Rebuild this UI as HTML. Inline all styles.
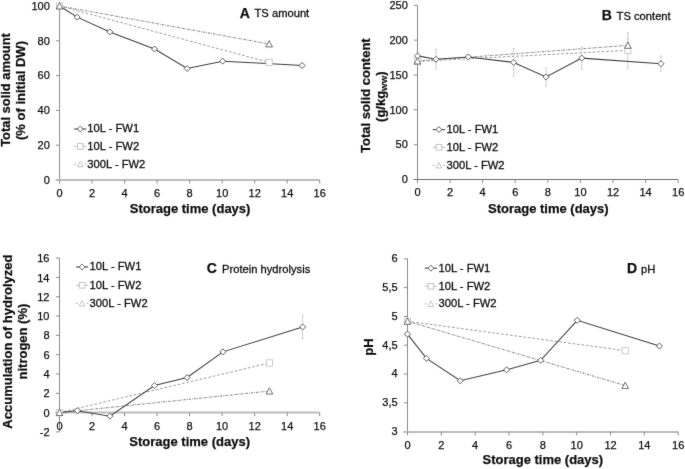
<!DOCTYPE html>
<html><head><meta charset="utf-8"><style>
html,body{margin:0;padding:0;background:#fff;width:685px;height:469px;overflow:hidden}
svg{display:block}
#w{width:685px;height:469px;will-change:transform}
.t{font-family:"Liberation Sans",sans-serif;font-size:11.2px;fill:#111;stroke:#111;stroke-width:0.3px}
.k{font-family:"Liberation Sans",sans-serif;font-size:11px;fill:#111;stroke:#111;stroke-width:0.25px}
.b{font-family:"Liberation Sans",sans-serif;font-size:13px;font-weight:bold;fill:#111;stroke:#111;stroke-width:0.25px}
</style></head><body><div id="w">
<svg width="685" height="469" viewBox="0 0 685 469"><defs><filter id="bl" filterUnits="userSpaceOnUse" x="0" y="0" width="685" height="469"><feConvolveMatrix order="3" kernelMatrix="0.00524 0.06192 0.00524 0.06192 0.73137 0.06192 0.00524 0.06192 0.00524" edgeMode="none"/></filter></defs><rect width="685" height="469" fill="#fff"/><g filter="url(#bl)">
<line x1="59.6" y1="6" x2="59.6" y2="180" stroke="#8c8c8c" stroke-width="1"/>
<line x1="56" y1="180" x2="59.6" y2="180" stroke="#8c8c8c" stroke-width="1"/>
<text x="49.8" y="183.8" text-anchor="end" class="k">0</text>
<line x1="56" y1="145.2" x2="59.6" y2="145.2" stroke="#8c8c8c" stroke-width="1"/>
<text x="49.8" y="149" text-anchor="end" class="k">20</text>
<line x1="56" y1="110.4" x2="59.6" y2="110.4" stroke="#8c8c8c" stroke-width="1"/>
<text x="49.8" y="114.2" text-anchor="end" class="k">40</text>
<line x1="56" y1="75.6" x2="59.6" y2="75.6" stroke="#8c8c8c" stroke-width="1"/>
<text x="49.8" y="79.4" text-anchor="end" class="k">60</text>
<line x1="56" y1="40.8" x2="59.6" y2="40.8" stroke="#8c8c8c" stroke-width="1"/>
<text x="49.8" y="44.6" text-anchor="end" class="k">80</text>
<line x1="56" y1="6" x2="59.6" y2="6" stroke="#8c8c8c" stroke-width="1"/>
<text x="49.8" y="9.8" text-anchor="end" class="k">100</text>
<line x1="55.6" y1="180" x2="319.7" y2="180" stroke="#bcbcbc" stroke-width="2"/>
<line x1="59.6" y1="180" x2="59.6" y2="183.5" stroke="#8c8c8c" stroke-width="1"/>
<text x="59.6" y="196.8" text-anchor="middle" class="k">0</text>
<line x1="92.11" y1="180" x2="92.11" y2="183.5" stroke="#8c8c8c" stroke-width="1"/>
<text x="92.11" y="196.8" text-anchor="middle" class="k">2</text>
<line x1="124.62" y1="180" x2="124.62" y2="183.5" stroke="#8c8c8c" stroke-width="1"/>
<text x="124.62" y="196.8" text-anchor="middle" class="k">4</text>
<line x1="157.14" y1="180" x2="157.14" y2="183.5" stroke="#8c8c8c" stroke-width="1"/>
<text x="157.14" y="196.8" text-anchor="middle" class="k">6</text>
<line x1="189.65" y1="180" x2="189.65" y2="183.5" stroke="#8c8c8c" stroke-width="1"/>
<text x="189.65" y="196.8" text-anchor="middle" class="k">8</text>
<line x1="222.16" y1="180" x2="222.16" y2="183.5" stroke="#8c8c8c" stroke-width="1"/>
<text x="222.16" y="196.8" text-anchor="middle" class="k">10</text>
<line x1="254.67" y1="180" x2="254.67" y2="183.5" stroke="#8c8c8c" stroke-width="1"/>
<text x="254.67" y="196.8" text-anchor="middle" class="k">12</text>
<line x1="287.19" y1="180" x2="287.19" y2="183.5" stroke="#8c8c8c" stroke-width="1"/>
<text x="287.19" y="196.8" text-anchor="middle" class="k">14</text>
<line x1="319.7" y1="180" x2="319.7" y2="183.5" stroke="#8c8c8c" stroke-width="1"/>
<text x="319.7" y="196.8" text-anchor="middle" class="k">16</text>
<text x="190.1" y="213.1" text-anchor="middle" class="b">Storage time (days)</text>
<text transform="translate(10.35,90) rotate(-90)" text-anchor="middle" class="b" style="font-size:12.9px">Total solid amount</text>
<text transform="translate(25.2,90.5) rotate(-90)" text-anchor="middle" class="b">(% of initial DW)</text>
<text x="239.8" y="17.6" class="b" style="font-size:14px">A</text><text x="254.5" y="17.3" class="t">TS amount</text>
<line x1="74.2" y1="129" x2="86.3" y2="129" stroke="#444" stroke-width="1.1"/>
<path d="M80.25 126.1L83.15 129L80.25 131.9L77.35 129Z" fill="#fff" stroke="#444" stroke-width="0.9"/>
<line x1="74.2" y1="146.4" x2="86.3" y2="146.4" stroke="#bdbdbd" stroke-width="1"/>
<rect x="77.45" y="143.6" width="5.6" height="5.6" fill="#fff" stroke="#bdbdbd" stroke-width="0.9"/>
<line x1="74.2" y1="164.2" x2="75.8" y2="164.2" stroke="#a8a8a8" stroke-width="1"/>
<line x1="84.7" y1="164.2" x2="86.3" y2="164.2" stroke="#a8a8a8" stroke-width="1"/>
<path d="M80.25 161.3L83.15 166.81L77.35 166.81Z" fill="#fff" stroke="#bdbdbd" stroke-width="0.9"/>
<text x="87.3" y="132.3" class="t">10L - FW1</text>
<text x="87.3" y="149.7" class="t">10L - FW2</text>
<text x="87.3" y="167.5" class="t">300L - FW2</text>
<polyline points="59.6,6 269.14,43.93" fill="none" stroke="#6a6a6a" stroke-width="0.9" stroke-dasharray="2.2,1.1,0.8,1.1"/>
<polyline points="59.6,6 269.14,62.38" fill="none" stroke="#9a9a9a" stroke-width="1" stroke-dasharray="2.6,1.9"/>
<polyline points="59.6,6 77.16,17.14 109.83,31.93 154.54,48.98 187.21,68.47 222.65,61.16 302.14,65.51" fill="none" stroke="#404040" stroke-width="1.05"/>
<path d="M59.6 3L62.6 6L59.6 9L56.6 6Z" fill="#fff" stroke="#404040" stroke-width="0.9"/>
<path d="M77.16 14.14L80.16 17.14L77.16 20.14L74.16 17.14Z" fill="#fff" stroke="#404040" stroke-width="0.9"/>
<path d="M109.83 28.93L112.83 31.93L109.83 34.93L106.83 31.93Z" fill="#fff" stroke="#404040" stroke-width="0.9"/>
<path d="M154.54 45.98L157.54 48.98L154.54 51.98L151.54 48.98Z" fill="#fff" stroke="#404040" stroke-width="0.9"/>
<path d="M187.21 65.47L190.21 68.47L187.21 71.47L184.21 68.47Z" fill="#fff" stroke="#404040" stroke-width="0.9"/>
<path d="M222.65 58.16L225.65 61.16L222.65 64.16L219.65 61.16Z" fill="#fff" stroke="#404040" stroke-width="0.9"/>
<path d="M302.14 62.51L305.14 65.51L302.14 68.51L299.14 65.51Z" fill="#fff" stroke="#404040" stroke-width="0.9"/>
<rect x="56.5" y="2.9" width="6.2" height="6.2" fill="#fff" stroke="#c6c6c6" stroke-width="0.9"/>
<rect x="266.04" y="59.28" width="6.2" height="6.2" fill="#fff" stroke="#c6c6c6" stroke-width="0.9"/>
<path d="M59.6 2.7L62.9 8.97L56.3 8.97Z" fill="#fff" stroke="#5a5a5a" stroke-width="0.9"/>
<path d="M269.14 40.63L272.44 46.9L265.84 46.9Z" fill="#fff" stroke="#5a5a5a" stroke-width="0.9"/>
<line x1="417.5" y1="5.3" x2="417.5" y2="179.5" stroke="#8c8c8c" stroke-width="1"/>
<line x1="413.9" y1="179.5" x2="417.5" y2="179.5" stroke="#8c8c8c" stroke-width="1"/>
<text x="407.8" y="183.3" text-anchor="end" class="k">0</text>
<line x1="413.9" y1="144.66" x2="417.5" y2="144.66" stroke="#8c8c8c" stroke-width="1"/>
<text x="407.8" y="148.46" text-anchor="end" class="k">50</text>
<line x1="413.9" y1="109.82" x2="417.5" y2="109.82" stroke="#8c8c8c" stroke-width="1"/>
<text x="407.8" y="113.62" text-anchor="end" class="k">100</text>
<line x1="413.9" y1="74.98" x2="417.5" y2="74.98" stroke="#8c8c8c" stroke-width="1"/>
<text x="407.8" y="78.78" text-anchor="end" class="k">150</text>
<line x1="413.9" y1="40.14" x2="417.5" y2="40.14" stroke="#8c8c8c" stroke-width="1"/>
<text x="407.8" y="43.94" text-anchor="end" class="k">200</text>
<line x1="413.9" y1="5.3" x2="417.5" y2="5.3" stroke="#8c8c8c" stroke-width="1"/>
<text x="407.8" y="9.1" text-anchor="end" class="k">250</text>
<line x1="413.5" y1="179.5" x2="678.2" y2="179.5" stroke="#6e6e6e" stroke-width="1"/>
<line x1="417.5" y1="179.5" x2="417.5" y2="183" stroke="#8c8c8c" stroke-width="1"/>
<text x="417.5" y="196.2" text-anchor="middle" class="k">0</text>
<line x1="450.09" y1="179.5" x2="450.09" y2="183" stroke="#8c8c8c" stroke-width="1"/>
<text x="450.09" y="196.2" text-anchor="middle" class="k">2</text>
<line x1="482.68" y1="179.5" x2="482.68" y2="183" stroke="#8c8c8c" stroke-width="1"/>
<text x="482.68" y="196.2" text-anchor="middle" class="k">4</text>
<line x1="515.26" y1="179.5" x2="515.26" y2="183" stroke="#8c8c8c" stroke-width="1"/>
<text x="515.26" y="196.2" text-anchor="middle" class="k">6</text>
<line x1="547.85" y1="179.5" x2="547.85" y2="183" stroke="#8c8c8c" stroke-width="1"/>
<text x="547.85" y="196.2" text-anchor="middle" class="k">8</text>
<line x1="580.44" y1="179.5" x2="580.44" y2="183" stroke="#8c8c8c" stroke-width="1"/>
<text x="580.44" y="196.2" text-anchor="middle" class="k">10</text>
<line x1="613.03" y1="179.5" x2="613.03" y2="183" stroke="#8c8c8c" stroke-width="1"/>
<text x="613.03" y="196.2" text-anchor="middle" class="k">12</text>
<line x1="645.61" y1="179.5" x2="645.61" y2="183" stroke="#8c8c8c" stroke-width="1"/>
<text x="645.61" y="196.2" text-anchor="middle" class="k">14</text>
<line x1="678.2" y1="179.5" x2="678.2" y2="183" stroke="#8c8c8c" stroke-width="1"/>
<text x="678.2" y="196.2" text-anchor="middle" class="k">16</text>
<text x="548.3" y="212.7" text-anchor="middle" class="b">Storage time (days)</text>
<text transform="translate(369.6,95.6) rotate(-90)" text-anchor="middle" class="b">Total solid content</text>
<text transform="translate(384.6,96.7) rotate(-90)" text-anchor="middle" class="b">(g/kg<tspan style="font-size:8px" dy="2.3">WW</tspan><tspan dy="-2.3">)</tspan></text>
<text x="601.8" y="19.8" class="b" style="font-size:14px">B</text><text x="616.6" y="19.8" class="t">TS content</text>
<line x1="432.8" y1="129.6" x2="445.1" y2="129.6" stroke="#444" stroke-width="1.1"/>
<path d="M438.95 126.7L441.85 129.6L438.95 132.5L436.05 129.6Z" fill="#fff" stroke="#444" stroke-width="0.9"/>
<line x1="432.8" y1="147.3" x2="445.1" y2="147.3" stroke="#bdbdbd" stroke-width="1"/>
<rect x="436.15" y="144.5" width="5.6" height="5.6" fill="#fff" stroke="#bdbdbd" stroke-width="0.9"/>
<line x1="432.8" y1="165.4" x2="434.4" y2="165.4" stroke="#a8a8a8" stroke-width="1"/>
<line x1="443.5" y1="165.4" x2="445.1" y2="165.4" stroke="#a8a8a8" stroke-width="1"/>
<path d="M438.95 162.5L441.85 168.01L436.05 168.01Z" fill="#fff" stroke="#bdbdbd" stroke-width="0.9"/>
<text x="446.5" y="132.9" class="t">10L - FW1</text>
<text x="446.5" y="150.6" class="t">10L - FW2</text>
<text x="446.5" y="168.7" class="t">300L - FW2</text>
<line x1="627.85" y1="52.33" x2="627.85" y2="38.4" stroke="#cfcfcf" stroke-width="1"/>
<line x1="626.75" y1="52.33" x2="628.95" y2="52.33" stroke="#cfcfcf" stroke-width="1"/>
<line x1="626.75" y1="38.4" x2="628.95" y2="38.4" stroke="#cfcfcf" stroke-width="1"/>
<polyline points="417.5,61.04 627.85,45.37" fill="none" stroke="#6a6a6a" stroke-width="0.9" stroke-dasharray="2.2,1.1,0.8,1.1"/>
<line x1="627.85" y1="68.15" x2="627.85" y2="32.61" stroke="#cfcfcf" stroke-width="1"/>
<line x1="626.75" y1="68.15" x2="628.95" y2="68.15" stroke="#cfcfcf" stroke-width="1"/>
<line x1="626.75" y1="32.61" x2="628.95" y2="32.61" stroke="#cfcfcf" stroke-width="1"/>
<polyline points="417.5,61.39 627.85,50.38" fill="none" stroke="#9a9a9a" stroke-width="1" stroke-dasharray="2.6,1.9"/>
<line x1="435.91" y1="69.06" x2="435.91" y2="49.55" stroke="#cfcfcf" stroke-width="1"/>
<line x1="434.81" y1="69.06" x2="437.01" y2="69.06" stroke="#cfcfcf" stroke-width="1"/>
<line x1="434.81" y1="49.55" x2="437.01" y2="49.55" stroke="#cfcfcf" stroke-width="1"/>
<line x1="468.34" y1="59.09" x2="468.34" y2="54.91" stroke="#cfcfcf" stroke-width="1"/>
<line x1="467.24" y1="59.09" x2="469.44" y2="59.09" stroke="#cfcfcf" stroke-width="1"/>
<line x1="467.24" y1="54.91" x2="469.44" y2="54.91" stroke="#cfcfcf" stroke-width="1"/>
<line x1="513.63" y1="76.37" x2="513.63" y2="48.5" stroke="#cfcfcf" stroke-width="1"/>
<line x1="512.53" y1="76.37" x2="514.73" y2="76.37" stroke="#cfcfcf" stroke-width="1"/>
<line x1="512.53" y1="48.5" x2="514.73" y2="48.5" stroke="#cfcfcf" stroke-width="1"/>
<line x1="546.06" y1="85.99" x2="546.06" y2="67.87" stroke="#cfcfcf" stroke-width="1"/>
<line x1="544.96" y1="85.99" x2="547.16" y2="85.99" stroke="#cfcfcf" stroke-width="1"/>
<line x1="544.96" y1="67.87" x2="547.16" y2="67.87" stroke="#cfcfcf" stroke-width="1"/>
<line x1="581.74" y1="69.27" x2="581.74" y2="46.97" stroke="#cfcfcf" stroke-width="1"/>
<line x1="580.64" y1="69.27" x2="582.84" y2="69.27" stroke="#cfcfcf" stroke-width="1"/>
<line x1="580.64" y1="46.97" x2="582.84" y2="46.97" stroke="#cfcfcf" stroke-width="1"/>
<line x1="660.93" y1="71.36" x2="660.93" y2="56.03" stroke="#cfcfcf" stroke-width="1"/>
<line x1="659.83" y1="71.36" x2="662.03" y2="71.36" stroke="#cfcfcf" stroke-width="1"/>
<line x1="659.83" y1="56.03" x2="662.03" y2="56.03" stroke="#cfcfcf" stroke-width="1"/>
<polyline points="417.5,55.89 435.91,59.3 468.34,57 513.63,62.44 546.06,76.93 581.74,58.12 660.93,63.69" fill="none" stroke="#404040" stroke-width="1.05"/>
<path d="M417.5 52.89L420.5 55.89L417.5 58.89L414.5 55.89Z" fill="#fff" stroke="#404040" stroke-width="0.9"/>
<path d="M435.91 56.3L438.91 59.3L435.91 62.3L432.91 59.3Z" fill="#fff" stroke="#404040" stroke-width="0.9"/>
<path d="M468.34 54L471.34 57L468.34 60L465.34 57Z" fill="#fff" stroke="#404040" stroke-width="0.9"/>
<path d="M513.63 59.44L516.63 62.44L513.63 65.44L510.63 62.44Z" fill="#fff" stroke="#404040" stroke-width="0.9"/>
<path d="M546.06 73.93L549.06 76.93L546.06 79.93L543.06 76.93Z" fill="#fff" stroke="#404040" stroke-width="0.9"/>
<path d="M581.74 55.12L584.74 58.12L581.74 61.12L578.74 58.12Z" fill="#fff" stroke="#404040" stroke-width="0.9"/>
<path d="M660.93 60.69L663.93 63.69L660.93 66.69L657.93 63.69Z" fill="#fff" stroke="#404040" stroke-width="0.9"/>
<rect x="414.4" y="58.29" width="6.2" height="6.2" fill="#fff" stroke="#c6c6c6" stroke-width="0.9"/>
<rect x="624.75" y="47.28" width="6.2" height="6.2" fill="#fff" stroke="#c6c6c6" stroke-width="0.9"/>
<path d="M417.5 57.74L420.8 64.01L414.2 64.01Z" fill="#fff" stroke="#5a5a5a" stroke-width="0.9"/>
<path d="M627.85 42.07L631.15 48.34L624.55 48.34Z" fill="#fff" stroke="#5a5a5a" stroke-width="0.9"/>
<line x1="59.5" y1="258.1" x2="59.5" y2="431.91" stroke="#8c8c8c" stroke-width="1"/>
<line x1="55.9" y1="431.91" x2="59.5" y2="431.91" stroke="#8c8c8c" stroke-width="1"/>
<text x="49.5" y="436.01" text-anchor="end" class="k">-2</text>
<line x1="55.9" y1="412.6" x2="59.5" y2="412.6" stroke="#8c8c8c" stroke-width="1"/>
<text x="49.5" y="416.7" text-anchor="end" class="k">0</text>
<line x1="55.9" y1="393.29" x2="59.5" y2="393.29" stroke="#8c8c8c" stroke-width="1"/>
<text x="49.5" y="397.39" text-anchor="end" class="k">2</text>
<line x1="55.9" y1="373.98" x2="59.5" y2="373.98" stroke="#8c8c8c" stroke-width="1"/>
<text x="49.5" y="378.08" text-anchor="end" class="k">4</text>
<line x1="55.9" y1="354.66" x2="59.5" y2="354.66" stroke="#8c8c8c" stroke-width="1"/>
<text x="49.5" y="358.76" text-anchor="end" class="k">6</text>
<line x1="55.9" y1="335.35" x2="59.5" y2="335.35" stroke="#8c8c8c" stroke-width="1"/>
<text x="49.5" y="339.45" text-anchor="end" class="k">8</text>
<line x1="55.9" y1="316.04" x2="59.5" y2="316.04" stroke="#8c8c8c" stroke-width="1"/>
<text x="49.5" y="320.14" text-anchor="end" class="k">10</text>
<line x1="55.9" y1="296.73" x2="59.5" y2="296.73" stroke="#8c8c8c" stroke-width="1"/>
<text x="49.5" y="300.83" text-anchor="end" class="k">12</text>
<line x1="55.9" y1="277.41" x2="59.5" y2="277.41" stroke="#8c8c8c" stroke-width="1"/>
<text x="49.5" y="281.51" text-anchor="end" class="k">14</text>
<line x1="55.9" y1="258.1" x2="59.5" y2="258.1" stroke="#8c8c8c" stroke-width="1"/>
<text x="49.5" y="262.2" text-anchor="end" class="k">16</text>
<line x1="55.5" y1="412.6" x2="319.7" y2="412.6" stroke="#bcbcbc" stroke-width="2"/>
<line x1="59.5" y1="412.6" x2="59.5" y2="416.1" stroke="#8c8c8c" stroke-width="1"/>
<text x="59.5" y="430.1" text-anchor="middle" class="k">0</text>
<line x1="92.03" y1="412.6" x2="92.03" y2="416.1" stroke="#8c8c8c" stroke-width="1"/>
<text x="92.03" y="430.1" text-anchor="middle" class="k">2</text>
<line x1="124.55" y1="412.6" x2="124.55" y2="416.1" stroke="#8c8c8c" stroke-width="1"/>
<text x="124.55" y="430.1" text-anchor="middle" class="k">4</text>
<line x1="157.07" y1="412.6" x2="157.07" y2="416.1" stroke="#8c8c8c" stroke-width="1"/>
<text x="157.07" y="430.1" text-anchor="middle" class="k">6</text>
<line x1="189.6" y1="412.6" x2="189.6" y2="416.1" stroke="#8c8c8c" stroke-width="1"/>
<text x="189.6" y="430.1" text-anchor="middle" class="k">8</text>
<line x1="222.12" y1="412.6" x2="222.12" y2="416.1" stroke="#8c8c8c" stroke-width="1"/>
<text x="222.12" y="430.1" text-anchor="middle" class="k">10</text>
<line x1="254.65" y1="412.6" x2="254.65" y2="416.1" stroke="#8c8c8c" stroke-width="1"/>
<text x="254.65" y="430.1" text-anchor="middle" class="k">12</text>
<line x1="287.17" y1="412.6" x2="287.17" y2="416.1" stroke="#8c8c8c" stroke-width="1"/>
<text x="287.17" y="430.1" text-anchor="middle" class="k">14</text>
<line x1="319.7" y1="412.6" x2="319.7" y2="416.1" stroke="#8c8c8c" stroke-width="1"/>
<text x="319.7" y="430.1" text-anchor="middle" class="k">16</text>
<text x="189.7" y="445.7" text-anchor="middle" class="b">Storage time (days)</text>
<text transform="translate(11.5,341.6) rotate(-90)" text-anchor="middle" class="b">Accumulation of hydrolyzed</text>
<text transform="translate(26.5,341.6) rotate(-90)" text-anchor="middle" class="b">nitrogen (%)</text>
<text x="206.7" y="273.2" class="b" style="font-size:14px">C</text><text x="222" y="272.7" class="t">Protein hydrolysis</text>
<line x1="76" y1="267" x2="88.2" y2="267" stroke="#444" stroke-width="1.1"/>
<path d="M82.1 264.1L85 267L82.1 269.9L79.2 267Z" fill="#fff" stroke="#444" stroke-width="0.9"/>
<line x1="76" y1="285.3" x2="88.2" y2="285.3" stroke="#bdbdbd" stroke-width="1"/>
<rect x="79.3" y="282.5" width="5.6" height="5.6" fill="#fff" stroke="#bdbdbd" stroke-width="0.9"/>
<line x1="76" y1="303.4" x2="77.6" y2="303.4" stroke="#a8a8a8" stroke-width="1"/>
<line x1="86.6" y1="303.4" x2="88.2" y2="303.4" stroke="#a8a8a8" stroke-width="1"/>
<path d="M82.1 300.5L85 306.01L79.2 306.01Z" fill="#fff" stroke="#bdbdbd" stroke-width="0.9"/>
<text x="89.6" y="270.3" class="t">10L - FW1</text>
<text x="89.6" y="288.6" class="t">10L - FW2</text>
<text x="89.6" y="306.7" class="t">300L - FW2</text>
<polyline points="59.5,412.6 269.45,391.07" fill="none" stroke="#6a6a6a" stroke-width="0.9" stroke-dasharray="2.2,1.1,0.8,1.1"/>
<polyline points="59.5,412.6 269.45,362.97" fill="none" stroke="#9a9a9a" stroke-width="1" stroke-dasharray="2.6,1.9"/>
<line x1="302.62" y1="338.54" x2="302.62" y2="315.36" stroke="#cfcfcf" stroke-width="1"/>
<line x1="301.52" y1="338.54" x2="303.72" y2="338.54" stroke="#cfcfcf" stroke-width="1"/>
<line x1="301.52" y1="315.36" x2="303.72" y2="315.36" stroke="#cfcfcf" stroke-width="1"/>
<polyline points="59.5,412.6 77.39,410.67 109.91,416.17 154.47,385.56 187.16,377.55 222.94,351.86 302.62,326.95" fill="none" stroke="#404040" stroke-width="1.05"/>
<path d="M59.5 409.6L62.5 412.6L59.5 415.6L56.5 412.6Z" fill="#fff" stroke="#404040" stroke-width="0.9"/>
<path d="M77.39 407.67L80.39 410.67L77.39 413.67L74.39 410.67Z" fill="#fff" stroke="#404040" stroke-width="0.9"/>
<path d="M109.91 413.17L112.91 416.17L109.91 419.17L106.91 416.17Z" fill="#fff" stroke="#404040" stroke-width="0.9"/>
<path d="M154.47 382.56L157.47 385.56L154.47 388.56L151.47 385.56Z" fill="#fff" stroke="#404040" stroke-width="0.9"/>
<path d="M187.16 374.55L190.16 377.55L187.16 380.55L184.16 377.55Z" fill="#fff" stroke="#404040" stroke-width="0.9"/>
<path d="M222.94 348.86L225.94 351.86L222.94 354.86L219.94 351.86Z" fill="#fff" stroke="#404040" stroke-width="0.9"/>
<path d="M302.62 323.95L305.62 326.95L302.62 329.95L299.62 326.95Z" fill="#fff" stroke="#404040" stroke-width="0.9"/>
<rect x="56.4" y="409.5" width="6.2" height="6.2" fill="#fff" stroke="#c6c6c6" stroke-width="0.9"/>
<rect x="266.35" y="359.87" width="6.2" height="6.2" fill="#fff" stroke="#c6c6c6" stroke-width="0.9"/>
<path d="M59.5 409.3L62.8 415.57L56.2 415.57Z" fill="#fff" stroke="#5a5a5a" stroke-width="0.9"/>
<path d="M269.45 387.77L272.75 394.04L266.15 394.04Z" fill="#fff" stroke="#5a5a5a" stroke-width="0.9"/>
<line x1="407.5" y1="258.8" x2="407.5" y2="431.6" stroke="#8c8c8c" stroke-width="1"/>
<line x1="403.9" y1="431.6" x2="407.5" y2="431.6" stroke="#8c8c8c" stroke-width="1"/>
<text x="397.6" y="435" text-anchor="end" class="k">3</text>
<line x1="403.9" y1="402.8" x2="407.5" y2="402.8" stroke="#8c8c8c" stroke-width="1"/>
<text x="397.6" y="406.2" text-anchor="end" class="k">3,5</text>
<line x1="403.9" y1="374" x2="407.5" y2="374" stroke="#8c8c8c" stroke-width="1"/>
<text x="397.6" y="377.4" text-anchor="end" class="k">4</text>
<line x1="403.9" y1="345.2" x2="407.5" y2="345.2" stroke="#8c8c8c" stroke-width="1"/>
<text x="397.6" y="348.6" text-anchor="end" class="k">4,5</text>
<line x1="403.9" y1="316.4" x2="407.5" y2="316.4" stroke="#8c8c8c" stroke-width="1"/>
<text x="397.6" y="319.8" text-anchor="end" class="k">5</text>
<line x1="403.9" y1="287.6" x2="407.5" y2="287.6" stroke="#8c8c8c" stroke-width="1"/>
<text x="397.6" y="291" text-anchor="end" class="k">5,5</text>
<line x1="403.9" y1="258.8" x2="407.5" y2="258.8" stroke="#8c8c8c" stroke-width="1"/>
<text x="397.6" y="262.2" text-anchor="end" class="k">6</text>
<line x1="403.5" y1="431.9" x2="678.2" y2="431.9" stroke="#bcbcbc" stroke-width="2"/>
<line x1="407.5" y1="431.9" x2="407.5" y2="435.4" stroke="#8c8c8c" stroke-width="1"/>
<text x="407.5" y="449" text-anchor="middle" class="k">0</text>
<line x1="441.34" y1="431.9" x2="441.34" y2="435.4" stroke="#8c8c8c" stroke-width="1"/>
<text x="441.34" y="449" text-anchor="middle" class="k">2</text>
<line x1="475.18" y1="431.9" x2="475.18" y2="435.4" stroke="#8c8c8c" stroke-width="1"/>
<text x="475.18" y="449" text-anchor="middle" class="k">4</text>
<line x1="509.01" y1="431.9" x2="509.01" y2="435.4" stroke="#8c8c8c" stroke-width="1"/>
<text x="509.01" y="449" text-anchor="middle" class="k">6</text>
<line x1="542.85" y1="431.9" x2="542.85" y2="435.4" stroke="#8c8c8c" stroke-width="1"/>
<text x="542.85" y="449" text-anchor="middle" class="k">8</text>
<line x1="576.69" y1="431.9" x2="576.69" y2="435.4" stroke="#8c8c8c" stroke-width="1"/>
<text x="576.69" y="449" text-anchor="middle" class="k">10</text>
<line x1="610.53" y1="431.9" x2="610.53" y2="435.4" stroke="#8c8c8c" stroke-width="1"/>
<text x="610.53" y="449" text-anchor="middle" class="k">12</text>
<line x1="644.36" y1="431.9" x2="644.36" y2="435.4" stroke="#8c8c8c" stroke-width="1"/>
<text x="644.36" y="449" text-anchor="middle" class="k">14</text>
<line x1="678.2" y1="431.9" x2="678.2" y2="435.4" stroke="#8c8c8c" stroke-width="1"/>
<text x="678.2" y="449" text-anchor="middle" class="k">16</text>
<text x="542.8" y="464.2" text-anchor="middle" class="b">Storage time (days)</text>
<text transform="translate(373,347) rotate(-90)" text-anchor="middle" class="b">pH</text>
<text x="627" y="273.4" class="b" style="font-size:14px">D</text><text x="641" y="272.6" class="t">pH</text>
<line x1="424.8" y1="268.2" x2="437" y2="268.2" stroke="#444" stroke-width="1.1"/>
<path d="M430.9 265.3L433.8 268.2L430.9 271.1L428 268.2Z" fill="#fff" stroke="#444" stroke-width="0.9"/>
<line x1="424.8" y1="286.3" x2="437" y2="286.3" stroke="#bdbdbd" stroke-width="1"/>
<rect x="428.1" y="283.5" width="5.6" height="5.6" fill="#fff" stroke="#bdbdbd" stroke-width="0.9"/>
<line x1="424.8" y1="303.9" x2="426.4" y2="303.9" stroke="#a8a8a8" stroke-width="1"/>
<line x1="435.4" y1="303.9" x2="437" y2="303.9" stroke="#a8a8a8" stroke-width="1"/>
<path d="M430.9 301L433.8 306.51L428 306.51Z" fill="#fff" stroke="#bdbdbd" stroke-width="0.9"/>
<text x="438.5" y="271.5" class="t">10L - FW1</text>
<text x="438.5" y="289.6" class="t">10L - FW2</text>
<text x="438.5" y="307.2" class="t">300L - FW2</text>
<polyline points="407.5,321.3 625.24,385.52" fill="none" stroke="#6a6a6a" stroke-width="0.9" stroke-dasharray="2.2,1.1,0.8,1.1"/>
<polyline points="407.5,321.3 625.24,350.67" fill="none" stroke="#9a9a9a" stroke-width="1" stroke-dasharray="2.6,1.9"/>
<polyline points="407.5,334.14 426.45,358.33 460.29,380.8 506.64,369.85 540.65,360.35 577.2,320.32 659.42,346.06" fill="none" stroke="#404040" stroke-width="1.05"/>
<path d="M407.5 331.14L410.5 334.14L407.5 337.14L404.5 334.14Z" fill="#fff" stroke="#404040" stroke-width="0.9"/>
<path d="M426.45 355.33L429.45 358.33L426.45 361.33L423.45 358.33Z" fill="#fff" stroke="#404040" stroke-width="0.9"/>
<path d="M460.29 377.8L463.29 380.8L460.29 383.8L457.29 380.8Z" fill="#fff" stroke="#404040" stroke-width="0.9"/>
<path d="M506.64 366.85L509.64 369.85L506.64 372.85L503.64 369.85Z" fill="#fff" stroke="#404040" stroke-width="0.9"/>
<path d="M540.65 357.35L543.65 360.35L540.65 363.35L537.65 360.35Z" fill="#fff" stroke="#404040" stroke-width="0.9"/>
<path d="M577.2 317.32L580.2 320.32L577.2 323.32L574.2 320.32Z" fill="#fff" stroke="#404040" stroke-width="0.9"/>
<path d="M659.42 343.06L662.42 346.06L659.42 349.06L656.42 346.06Z" fill="#fff" stroke="#404040" stroke-width="0.9"/>
<rect x="404.4" y="318.2" width="6.2" height="6.2" fill="#fff" stroke="#c6c6c6" stroke-width="0.9"/>
<rect x="622.14" y="347.57" width="6.2" height="6.2" fill="#fff" stroke="#c6c6c6" stroke-width="0.9"/>
<path d="M407.5 318L410.8 324.27L404.2 324.27Z" fill="#fff" stroke="#5a5a5a" stroke-width="0.9"/>
<path d="M625.24 382.22L628.54 388.49L621.94 388.49Z" fill="#fff" stroke="#5a5a5a" stroke-width="0.9"/>
</g></svg></div>
</body></html>
